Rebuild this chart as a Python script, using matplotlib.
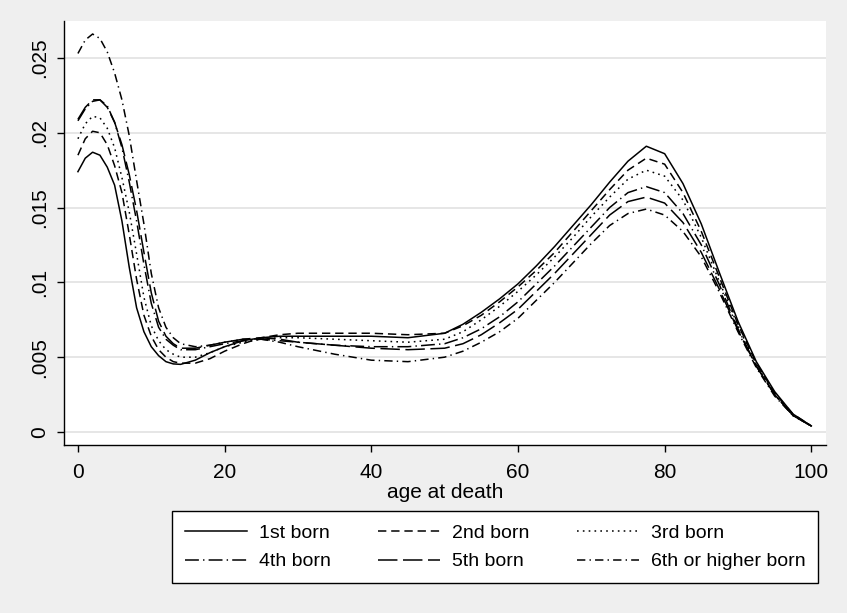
import matplotlib
matplotlib.use('Agg')
import matplotlib.pyplot as plt

# age grid the densities were read at
ages = [0, 1, 2, 3, 4, 5, 6, 7, 8, 9, 10, 11, 12, 13, 14, 16, 18, 20, 22.5, 25, 27.5, 30,
        35, 40, 45, 50, 52.5, 55, 57.5, 60, 62.5, 65, 67.5, 70, 72.5, 75, 77.5, 80,
        82.5, 85, 87.5, 90, 92.5, 95, 97.5, 100]

born1 = [.0174, .0183, .0187, .0185, .0177, .0165, .0141, .0110, .0083, .0067, .0057, .0051,
         .0047, .00455, .00452, .0048, .0053, .0057, .0061, .0063, .0064, .0064, .0064, .0064,
         .0063, .0066, .0072, .0080, .0089, .0099, .0111, .0124, .0138, .0152, .0167, .0181,
         .0191, .0186, .0166, .0139, .0106, .0074, .0047, .0027, .0012, .0004]
born2 = [.0185, .0196, .0201, .0200, .0192, .0178, .0160, .0132, .0102, .0078, .0064, .0055,
         .0050, .0047, .0046, .0046, .0049, .0054, .0059, .0063, .0065, .0066, .0066, .0066,
         .0065, .0066, .0071, .0078, .0087, .0097, .0108, .0120, .0134, .0148, .0162, .0175,
         .0183, .0179, .0160, .0134, .0103, .0072, .0046, .0026, .0012, .0004]
born3 = [.0196, .0206, .0211, .0210, .0203, .0190, .0170, .0147, .0119, .0090, .0071, .0061,
         .0055, .0052, .0050, .0050, .0053, .0057, .0060, .0062, .0063, .0063, .0062, .0061,
         .0060, .0062, .0067, .0075, .0084, .0094, .0105, .0117, .0130, .0144, .0157, .0169,
         .0175, .0171, .0155, .0130, .0100, .0071, .0045, .0025, .0011, .0004]
born4 = [.0208, .0216, .0221, .0222, .0218, .0207, .0190, .0167, .0141, .0112, .0086, .0070,
         .0062, .0058, .0055, .0055, .0057, .0059, .0061, .0062, .0061, .0060, .0058, .0057,
         .0057, .0059, .0063, .0069, .0077, .0087, .0099, .0111, .0124, .0137, .0150, .0160,
         .0164, .0160, .0146, .0125, .0098, .0069, .0044, .0025, .0011, .0004]
born5 = [.0209, .0217, .0222, .0222, .0217, .0207, .0192, .0172, .0148, .0120, .0093, .0074,
         .0064, .0059, .0056, .0056, .0058, .0060, .0062, .0063, .0062, .0060, .0058, .0056,
         .0055, .0056, .0059, .0065, .0073, .0082, .0094, .0106, .0119, .0132, .0145, .0154,
         .0157, .0153, .0140, .0120, .0095, .0068, .0044, .0025, .0011, .0004]
born6 = [.0253, .0262, .0266, .0263, .0254, .0240, .0222, .0198, .0168, .0139, .0106, .0083,
         .0070, .0063, .0059, .0057, .0058, .0060, .0062, .0062, .0060, .0057, .0052, .0048,
         .0047, .0050, .0054, .0060, .0067, .0076, .0088, .0100, .0113, .0126, .0138, .0146,
         .0149, .0145, .0134, .0117, .0093, .0067, .0043, .0024, .0011, .0004]

labels = ['1st born', '2nd born', '3rd born', '4th born', '5th born', '6th or higher born']
series = [born1, born2, born3, born4, born5, born6]
dashes = ['-', (0, (6, 3.5)), (0, (1.2, 3)), (0, (10, 3, 1, 3)), (0, (14, 4)), (0, (6, 3, 1, 3))]

yticks = [0, .005, .01, .015, .02, .025]
yticklabels = ['0', '.005', '.01', '.015', '.02', '.025']
xticks = [0, 20, 40, 60, 80, 100]

plt.rcParams['font.family'] = ['Liberation Sans', 'DejaVu Sans']
plt.rcParams['lines.scale_dashes'] = False

fig = plt.figure(figsize=(8.47, 6.13), dpi=100, facecolor='#efefef')
ax = fig.add_axes([64 / 847, 1 - 445 / 613, (826 - 64) / 847, (445 - 21) / 613])
ax.set_facecolor('white')

lines = []
for vals, ls, lab in zip(series, dashes, labels):
    ln, = ax.plot(ages, vals, color='black', lw=1.1, linestyle=ls, label=lab)
    lines.append(ln)

ax.set_xlim(-1.9, 102)
ax.set_ylim(-0.00087, 0.02747)
ax.set_yticks(yticks)
ax.set_yticklabels(yticklabels, rotation=90, va='center')
ax.set_xticks(xticks)
ax.tick_params(labelsize=15, length=5, width=1, color='black', direction='out', pad=6)
ax.tick_params(axis='x', pad=8)
ax.grid(axis='y', color='#e4e4e4', lw=1.3)
ax.set_axisbelow(True)
for side in ['top', 'right']:
    ax.spines[side].set_visible(False)
ax.spines['left'].set_linewidth(1)
ax.spines['bottom'].set_linewidth(1)
ax.set_xlabel('age at death', fontsize=15, labelpad=1)

# stata fills legend row by row
order = [0, 3, 1, 4, 2, 5]
leg = fig.legend([lines[i] for i in order], [labels[i] for i in order], ncol=3,
                 loc='lower left', mode='expand', borderaxespad=0,
                 bbox_to_anchor=(172 / 847, 1 - 583 / 613, (818 - 172) / 847, 70 / 613),
                 fontsize=14, handlelength=3.2, handletextpad=0.6, labelspacing=0.57,
                 borderpad=0.65, fancybox=False, edgecolor='black', framealpha=1)
leg.get_frame().set_linewidth(1)

fig.savefig('out.png', dpi=100, facecolor=fig.get_facecolor())
